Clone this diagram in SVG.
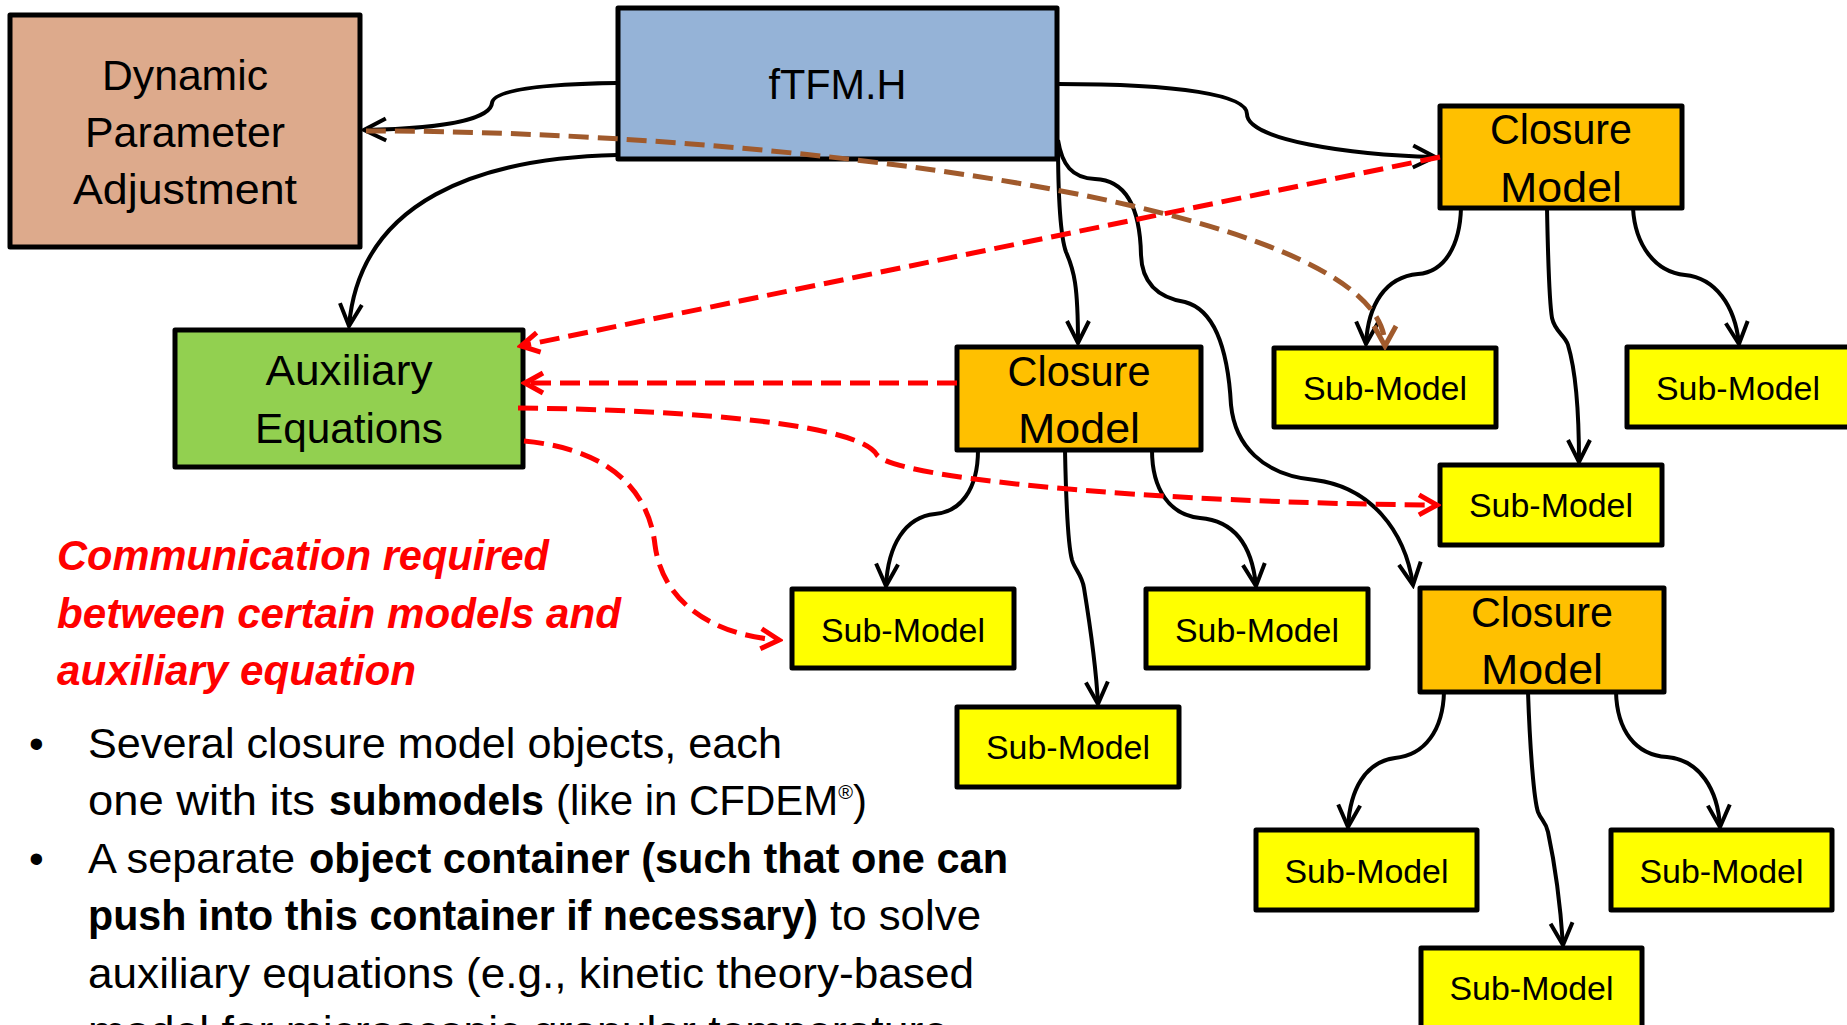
<svg xmlns="http://www.w3.org/2000/svg" width="1847" height="1025" viewBox="0 0 1847 1025">
  <style>
    .box { stroke: #000; stroke-width: 5; stroke-linejoin: round; }
    .dpa { fill: #DDAA8C; }
    .top { fill: #95B3D7; }
    .aux { fill: #92D050; }
    .clo { fill: #FFC000; }
    .sub { fill: #FFFF00; }
    .lbl { font-family: "Liberation Sans", Arial, sans-serif; font-size: 42px; fill: #000; text-anchor: middle; }
    .sml { font-size: 33px; }
    .body { font-family: "Liberation Sans", Arial, sans-serif; font-size: 42px; fill: #000; }
    .b { font-weight: bold; }
    .note { font-family: "Liberation Sans", Arial, sans-serif; font-size: 42px; font-weight: bold; font-style: italic; fill: #FF0000; }
    .link { fill: none; stroke: #000; stroke-width: 4; }
    .req { fill: none; stroke: #FF0000; stroke-width: 5; stroke-dasharray: 20 9; }
    .par { fill: none; stroke: #A05A2C; stroke-width: 5; stroke-dasharray: 20 9; }
  </style>
  <defs>
    <marker id="arrowBlack" viewBox="-26 -14 30 28" refX="0" refY="0" markerWidth="30" markerHeight="28" orient="auto" markerUnits="userSpaceOnUse">
      <path d="M-22,-11 L0,0 L-22,11" fill="none" stroke="#000" stroke-width="4"/>
    </marker>
    <marker id="arrowRed" viewBox="-26 -14 30 28" refX="0" refY="0" markerWidth="30" markerHeight="28" orient="auto" markerUnits="userSpaceOnUse">
      <path d="M-18,-10 L0,0 L-18,10" fill="none" stroke="#FF0000" stroke-width="5"/>
    </marker>
    <marker id="arrowBrown" viewBox="-26 -14 30 28" refX="0" refY="0" markerWidth="30" markerHeight="28" orient="auto" markerUnits="userSpaceOnUse">
      <path d="M-20,-11 L0,0 L-20,11" fill="none" stroke="#A05A2C" stroke-width="5"/>
    </marker>
  </defs>

  <rect width="1847" height="1025" fill="#FFFFFF"/>

  <!-- nodes -->
  <g id="dynamic-parameter-adjustment">
    <rect class="box dpa" x="10" y="15" width="350" height="232"/>
    <text class="lbl" x="185" y="90" textLength="166" lengthAdjust="spacingAndGlyphs">Dynamic</text>
    <text class="lbl" x="185" y="147" textLength="200" lengthAdjust="spacingAndGlyphs">Parameter</text>
    <text class="lbl" x="185" y="204" textLength="224" lengthAdjust="spacingAndGlyphs">Adjustment</text>
  </g>
  <g id="ftfm-h">
    <rect class="box top" x="618" y="8" width="439" height="151"/>
    <text class="lbl" x="837.5" y="99" textLength="138" lengthAdjust="spacingAndGlyphs">fTFM.H</text>
  </g>
  <g id="closure-model-1">
    <rect class="box clo" x="1440" y="106" width="242" height="102"/>
    <text class="lbl" x="1561" y="144" textLength="142" lengthAdjust="spacingAndGlyphs">Closure</text>
    <text class="lbl" x="1561" y="202" textLength="122" lengthAdjust="spacingAndGlyphs">Model</text>
  </g>
  <g id="auxiliary-equations">
    <rect class="box aux" x="175" y="330" width="348" height="137"/>
    <text class="lbl" x="349" y="385" textLength="167" lengthAdjust="spacingAndGlyphs">Auxiliary</text>
    <text class="lbl" x="349" y="443" textLength="188" lengthAdjust="spacingAndGlyphs">Equations</text>
  </g>
  <g id="closure-model-2">
    <rect class="box clo" x="957" y="347" width="244" height="103"/>
    <text class="lbl" x="1079" y="386" textLength="143" lengthAdjust="spacingAndGlyphs">Closure</text>
    <text class="lbl" x="1079" y="443" textLength="122" lengthAdjust="spacingAndGlyphs">Model</text>
  </g>
  <g id="closure-model-3">
    <rect class="box clo" x="1420" y="588" width="244" height="104"/>
    <text class="lbl" x="1542" y="627" textLength="142" lengthAdjust="spacingAndGlyphs">Closure</text>
    <text class="lbl" x="1542" y="684" textLength="122" lengthAdjust="spacingAndGlyphs">Model</text>
  </g>

  <g id="sub-model-1a">
    <rect class="box sub" x="1274" y="348" width="222" height="79"/>
    <text class="lbl sml" x="1385" y="400" textLength="164" lengthAdjust="spacingAndGlyphs">Sub-Model</text>
  </g>
  <g id="sub-model-1b">
    <rect class="box sub" x="1627" y="347" width="226" height="80"/>
    <text class="lbl sml" x="1738" y="400" textLength="164" lengthAdjust="spacingAndGlyphs">Sub-Model</text>
  </g>
  <g id="sub-model-1c">
    <rect class="box sub" x="1440" y="465" width="222" height="80"/>
    <text class="lbl sml" x="1551" y="517" textLength="164" lengthAdjust="spacingAndGlyphs">Sub-Model</text>
  </g>
  <g id="sub-model-2a">
    <rect class="box sub" x="792" y="589" width="222" height="79"/>
    <text class="lbl sml" x="903" y="642" textLength="164" lengthAdjust="spacingAndGlyphs">Sub-Model</text>
  </g>
  <g id="sub-model-2b">
    <rect class="box sub" x="1146" y="589" width="222" height="79"/>
    <text class="lbl sml" x="1257" y="642" textLength="164" lengthAdjust="spacingAndGlyphs">Sub-Model</text>
  </g>
  <g id="sub-model-2c">
    <rect class="box sub" x="957" y="707" width="222" height="80"/>
    <text class="lbl sml" x="1068" y="759" textLength="164" lengthAdjust="spacingAndGlyphs">Sub-Model</text>
  </g>
  <g id="sub-model-3a">
    <rect class="box sub" x="1256" y="830" width="221" height="80"/>
    <text class="lbl sml" x="1366.5" y="883" textLength="164" lengthAdjust="spacingAndGlyphs">Sub-Model</text>
  </g>
  <g id="sub-model-3b">
    <rect class="box sub" x="1611" y="830" width="221" height="80"/>
    <text class="lbl sml" x="1721.5" y="883" textLength="164" lengthAdjust="spacingAndGlyphs">Sub-Model</text>
  </g>
  <g id="sub-model-3c">
    <rect class="box sub" x="1421" y="948" width="221" height="84"/>
    <text class="lbl sml" x="1531.5" y="1000" textLength="164" lengthAdjust="spacingAndGlyphs">Sub-Model</text>
  </g>

  <!-- connectors -->
  <g id="connectors">
    <path class="link" marker-end="url(#arrowBlack)" d="M617,83 C540,84 493,90 492,103 C491,116 460,128 364,130"/>
    <path class="link" marker-end="url(#arrowBlack)" d="M617,155 C480,158 360,200 349,326"/>
    <path class="link" marker-end="url(#arrowBlack)" d="M1058,84 C1180,84 1247,95 1247,114 C1247,140 1350,155 1435,157"/>
    <path class="link" marker-end="url(#arrowBlack)" d="M1058,140 C1058,200 1060,235 1066,252 C1074,270 1078,285 1078,343"/>
    <path class="link" marker-end="url(#arrowBlack)" d="M1058,140 C1062,165 1072,178 1095,179 C1125,180 1140,205 1141,255 C1142,285 1160,298 1185,302 C1215,310 1228,350 1231,405 C1235,445 1262,475 1315,480 C1370,487 1405,530 1413,585"/>
    <path class="link" marker-end="url(#arrowBlack)" d="M1461,208 C1460,245 1445,272 1418,274 C1385,277 1368,305 1366,344"/>
    <path class="link" marker-end="url(#arrowBlack)" d="M1547,208 C1548,260 1549,300 1552,318 C1555,332 1565,335 1568,345 C1574,365 1579,400 1579,462"/>
    <path class="link" marker-end="url(#arrowBlack)" d="M1633,208 C1635,245 1655,272 1685,275 C1715,278 1735,305 1739,344"/>
    <path class="link" marker-end="url(#arrowBlack)" d="M978,450 C978,490 960,512 935,514 C905,517 888,545 886,586"/>
    <path class="link" marker-end="url(#arrowBlack)" d="M1065,450 C1066,500 1068,545 1072,560 C1075,570 1082,575 1084,588 C1090,625 1096,665 1098,704"/>
    <path class="link" marker-end="url(#arrowBlack)" d="M1152,450 C1152,490 1170,515 1200,518 C1235,521 1252,545 1256,586"/>
    <path class="link" marker-end="url(#arrowBlack)" d="M1444,692 C1443,730 1425,755 1395,758 C1365,762 1350,790 1348,827"/>
    <path class="link" marker-end="url(#arrowBlack)" d="M1528,692 C1530,750 1534,800 1538,812 C1541,820 1546,822 1548,832 C1554,860 1560,900 1563,945"/>
    <path class="link" marker-end="url(#arrowBlack)" d="M1616,692 C1617,730 1635,755 1667,757 C1700,760 1718,790 1720,827"/>

    <path class="req" marker-end="url(#arrowRed)" d="M1440,157 L521,346"/>
    <path class="req" marker-end="url(#arrowRed)" d="M957,383 L525,383"/>
    <path class="req" marker-end="url(#arrowRed)" d="M518,408 C700,410 860,425 877,455 C893,478 1150,503 1437,505"/>
    <path class="req" marker-end="url(#arrowRed)" d="M524,441 C620,450 650,500 655,545 C662,600 710,635 779,640"/>

    <path class="par" marker-end="url(#arrowBrown)" d="M366,131 C750,130 1385,200 1385,346"/>
  </g>

  <!-- caption -->
  <g id="caption">
    <text class="note" x="57" y="570" textLength="492" lengthAdjust="spacingAndGlyphs">Communication required</text>
    <text class="note" x="57" y="628" textLength="564" lengthAdjust="spacingAndGlyphs">between certain models and</text>
    <text class="note" x="57" y="685" textLength="359" lengthAdjust="spacingAndGlyphs">auxiliary equation</text>
  </g>

  <!-- bullet list -->
  <g id="bullets">
    <text class="body" x="29" y="758">•</text>
    <text class="body" x="88" y="758" textLength="694" lengthAdjust="spacingAndGlyphs">Several closure model objects, each</text>
    <text class="body" x="88" y="815" textLength="227" lengthAdjust="spacingAndGlyphs">one with its</text>
    <text class="body b" x="329" y="815" textLength="215" lengthAdjust="spacingAndGlyphs">submodels</text>
    <text class="body" x="556" y="815">(like in CFDEM<tspan font-size="20" dy="-16">®</tspan><tspan dy="16">)</tspan></text>
    <text class="body" x="29" y="873">•</text>
    <text class="body" x="88" y="873" textLength="207" lengthAdjust="spacingAndGlyphs">A separate</text>
    <text class="body b" x="309" y="873" textLength="699" lengthAdjust="spacingAndGlyphs">object container (such that one can</text>
    <text class="body b" x="88" y="930" textLength="730" lengthAdjust="spacingAndGlyphs">push into this container if necessary)</text>
    <text class="body" x="830" y="930" textLength="151" lengthAdjust="spacingAndGlyphs">to solve</text>
    <text class="body" x="88" y="988" textLength="886" lengthAdjust="spacingAndGlyphs">auxiliary equations (e.g., kinetic theory-based</text>
    <text class="body" x="88" y="1046" textLength="860" lengthAdjust="spacingAndGlyphs">model for microscopic granular temperature</text>
  </g>
</svg>
